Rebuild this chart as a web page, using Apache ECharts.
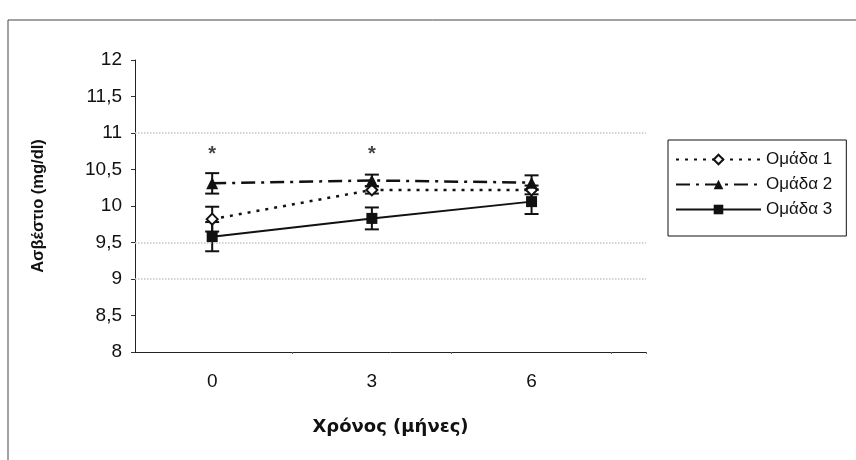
<!DOCTYPE html>
<html><head><meta charset="utf-8">
<script src="https://cdn.jsdelivr.net/npm/echarts@6/dist/echarts.min.js"></script>
<style>html,body{margin:0;padding:0;background:#fff}#c{width:856px;height:460px}</style>
</head><body><div id="c"></div>
<script>
const months = [0, 3, 6];
const seriesNames = ['Ομάδα 1', 'Ομάδα 2', 'Ομάδα 3'];
const group1 = [9.82, 10.22, 10.22];
const group1Err = [0.17, 0.05, 0.06];
const group2 = [10.31, 10.35, 10.32];
const group2Err = [0.14, 0.08, 0.10];
const group3 = [9.58, 9.83, 10.06];
const group3Err = [0.20, 0.15, 0.17];
const starMonths = [0, 3];
const starValue = 10.70;
const refLines = [11, 9.5, 9];
const xTickMarks = [1.5, 4.5, 7.5, 8.15];

const chart = echarts.init(document.getElementById('c'));
const FONT = '"DejaVu Sans", sans-serif';
const AFONT = '"Liberation Sans", Arial, sans-serif';

function pts(vals) { return months.map((m, i) => [m, vals[i]]); }
function errs(vals, e) { return months.map((m, i) => [m, vals[i] - e[i], vals[i] + e[i]]); }

function errRender(params, api) {
  const x = api.value(0), lo = api.value(1), hi = api.value(2);
  const pHi = api.coord([x, hi]), pLo = api.coord([x, lo]);
  const hw = 7;
  const st = { stroke: '#111', lineWidth: 2 };
  return { type: 'group', children: [
    { type: 'line', shape: { x1: pHi[0], y1: pHi[1], x2: pLo[0], y2: pLo[1] }, style: st },
    { type: 'line', shape: { x1: pHi[0] - hw, y1: pHi[1], x2: pHi[0] + hw, y2: pHi[1] }, style: st },
    { type: 'line', shape: { x1: pLo[0] - hw, y1: pLo[1], x2: pLo[0] + hw, y2: pLo[1] }, style: st }
  ]};
}

function errSeries(vals, e) {
  return { type: 'custom', renderItem: errRender, data: errs(vals, e), encode: { x: 0, y: [1, 2] }, z: 1, silent: true };
}

const option = {
  animation: false,
  backgroundColor: '#fff',
  textStyle: { fontFamily: AFONT },
  graphic: [{
    type: 'rect', shape: { x: 8, y: 20, width: 900, height: 500 },
    style: { fill: 'none', stroke: '#444', lineWidth: 1 }, silent: true, z: -1
  }],
  grid: { left: 135, right: 210, top: 60, bottom: 108 },
  legend: {
    data: seriesNames,
    orient: 'vertical',
    left: 668, top: 140,
    padding: [11, 14, 18, 7],
    itemWidth: 85, itemHeight: 12, itemGap: 8,
    borderColor: '#111', borderWidth: 1,
    textStyle: { fontSize: 17, color: '#111', fontFamily: AFONT }
  },
  xAxis: {
    type: 'value', min: -1.45, max: 8.15,
    axisLine: { onZero: false, lineStyle: { color: '#222', width: 1 } },
    axisTick: { show: true, length: 2, customValues: xTickMarks, lineStyle: { color: '#666' } },
    axisLabel: { customValues: months, fontSize: 19, color: '#111', margin: 20, fontFamily: AFONT },
    splitLine: { show: false },
    name: 'Χρόνος (μήνες)', nameLocation: 'middle', nameGap: 66,
    nameTextStyle: { fontSize: 18, fontWeight: 'bold', color: '#111', fontFamily: FONT }
  },
  yAxis: {
    type: 'value', min: 8, max: 12, interval: 0.5,
    axisLine: { show: true, onZero: false, lineStyle: { color: '#222', width: 1 } },
    axisTick: { show: true, length: 4, lineStyle: { color: '#333' } },
    axisLabel: { fontSize: 19, color: '#111', margin: 13, fontFamily: AFONT, formatter: v => String(v).replace('.', ',') },
    splitLine: { show: false },
    name: 'Ασβέστιο (mg/dl)', nameLocation: 'middle', nameGap: 88, nameRotate: 90,
    nameTextStyle: { fontSize: 16.5, fontWeight: 'bold', color: '#111', fontFamily: AFONT }
  },
  series: [
    errSeries(group1, group1Err),
    errSeries(group2, group2Err),
    errSeries(group3, group3Err),
    {
      name: 'Ομάδα 1', type: 'line', data: pts(group1), z: 3,
      symbol: 'diamond', symbolSize: 11,
      lineStyle: { color: '#111', width: 2.5, type: [3, 6] },
      itemStyle: { color: '#fff', borderColor: '#111', borderWidth: 2 }
    },
    {
      name: 'Ομάδα 2', type: 'line', data: pts(group2), z: 3,
      symbol: 'triangle', symbolSize: 12,
      lineStyle: { color: '#111', width: 2.5, type: [14, 6, 3, 6] },
      itemStyle: { color: '#111' }
    },
    {
      name: 'Ομάδα 3', type: 'line', data: pts(group3), z: 3,
      symbol: 'rect', symbolSize: 11,
      lineStyle: { color: '#111', width: 2 },
      itemStyle: { color: '#111' },
      markLine: {
        silent: true, symbol: 'none', label: { show: false },
        lineStyle: { color: '#c4c4c4', type: 'dotted', width: 1.5 },
        data: refLines.map(v => ({ yAxis: v }))
      }
    },
    {
      type: 'scatter', data: starMonths.map(m => [m, starValue]), symbolSize: 1,
      itemStyle: { color: 'rgba(0,0,0,0)' }, silent: true,
      label: { show: true, position: 'inside', formatter: '*', fontSize: 20, fontWeight: 'bold', color: '#111', fontFamily: AFONT }
    }
  ]
};
chart.setOption(option);
</script>
</body></html>
